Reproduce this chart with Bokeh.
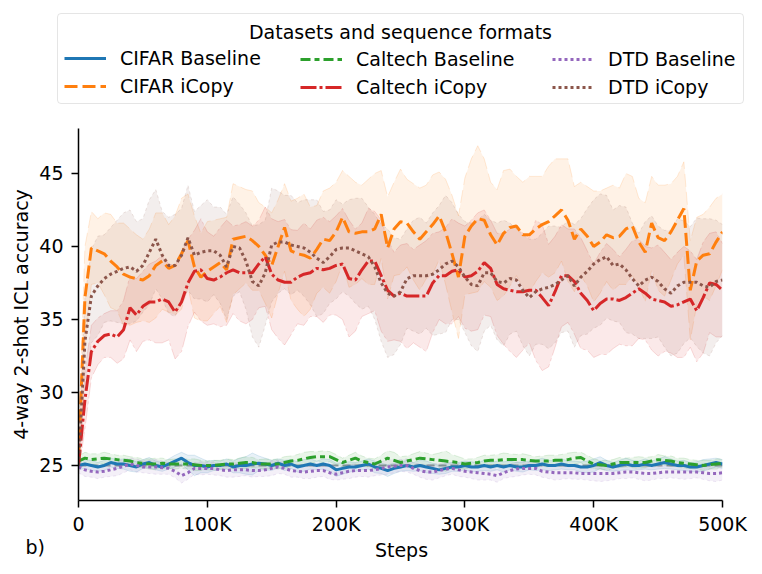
from bokeh.plotting import figure
from bokeh.models import (Range1d, FixedTicker, Legend, LegendItem, Label, Span)
from bokeh.embed import file_html
from bokeh.resources import INLINE

# ---------------- data ----------------
steps = [i * 5000 for i in range(101)]

cifar_icopy = [25.5, 36.5, 39.9, 39.7, 39.5, 39.0, 38.6, 38.1, 37.9, 37.8,
               37.7, 38.0, 38.7, 39.0, 38.5, 38.7, 39.5, 40.4, 38.6, 37.9,
               38.3, 38.6, 38.9, 38.4, 40.5, 40.6, 40.7, 40.4, 40.0, 39.4,
               38.7, 40.0, 41.3, 39.7, 39.5, 39.4, 39.2, 39.8, 40.5, 40.4,
               41.0, 42.0, 41.0, 40.9, 41.0, 41.0, 41.2, 42.2, 39.9, 41.2,
               41.7, 41.6, 41.0, 40.5, 41.0, 41.5, 42.1, 41.0, 39.5, 37.9,
               40.7, 41.4, 41.9, 41.8, 40.8, 40.1, 40.9, 41.3, 41.4, 40.8,
               40.8, 41.2, 41.5, 41.7, 42.1, 42.5, 41.8, 40.5, 41.2, 40.7,
               40.0, 40.3, 40.8, 40.6, 40.7, 41.2, 41.4, 40.3, 39.6, 41.6,
               40.6, 40.4, 41.0, 41.8, 42.6, 37.0, 39.0, 39.4, 39.5, 40.3, 41.0]
cifar_icopy_sd = [1.0, 3.5, 2.5, 2.2, 2.8, 3.2, 3.0, 3.5, 3.3, 3.0,
                  2.8, 3.2, 3.6, 3.3, 3.0, 3.4, 3.8, 3.2, 3.5, 3.0,
                  3.4, 3.2, 3.0, 3.6, 3.8, 3.5, 3.2, 3.4, 3.0, 3.3,
                  3.6, 3.2, 3.0, 3.4, 3.8, 4.2, 3.5, 3.0, 3.3, 3.6,
                  3.4, 3.2, 3.8, 3.5, 3.2, 3.6, 3.8, 3.0, 3.5, 3.2,
                  3.6, 3.0, 3.3, 3.5, 3.2, 3.4, 3.0, 3.6, 4.0, 4.2,
                  4.0, 4.6, 5.0, 4.2, 3.6, 3.8, 4.3, 4.0, 3.4, 3.6,
                  4.0, 3.6, 3.3, 3.8, 3.9, 3.5, 4.2, 3.6, 3.2, 3.4,
                  3.8, 3.5, 3.2, 3.6, 3.3, 3.8, 3.4, 3.0, 3.4, 3.2,
                  3.6, 3.8, 3.3, 3.0, 3.2, 3.4, 3.0, 2.8, 3.2, 3.0, 2.6]

caltech_icopy = [25.0, 29.5, 32.8, 33.5, 33.9, 34.0, 33.8, 34.3, 35.8, 35.3,
                 35.9, 36.2, 36.2, 36.4, 36.2, 35.5, 36.2, 37.5, 38.3, 38.4,
                 37.8, 37.7, 37.9, 38.2, 38.4, 38.2, 38.2, 38.2, 38.8, 39.3,
                 38.1, 37.7, 37.55, 37.55, 37.9, 38.1, 38.2, 38.5, 38.4, 38.5,
                 38.7, 38.8, 37.8, 37.7, 38.4, 39.0, 39.0, 38.0, 37.0, 36.6,
                 36.8, 36.6, 36.6, 36.6, 36.6, 37.5, 38.0, 38.0, 38.3, 38.4,
                 37.9, 38.0, 38.3, 38.9, 38.5, 37.4, 37.1, 37.0, 36.9, 36.9,
                 37.0, 37.0, 36.5, 35.95, 36.9, 38.0, 38.0, 37.6, 36.8, 36.3,
                 35.6, 36.1, 36.4, 36.4, 36.3, 36.5, 36.8, 37.1, 36.8, 36.4,
                 36.3, 36.2, 35.9, 36.0, 36.2, 36.4, 35.6, 36.5, 37.5, 37.4, 37.0]
caltech_icopy_sd = [0.5, 2.0, 1.8, 1.6, 1.5, 1.6, 1.8, 2.0, 2.2, 2.5,
                    2.4, 2.6, 2.8, 3.0, 2.6, 3.2, 3.4, 3.0, 2.8, 3.5,
                    3.2, 3.0, 3.4, 3.6, 3.0, 3.3, 3.5, 3.2, 3.0, 3.4,
                    3.8, 4.0, 4.3, 3.6, 3.2, 3.5, 3.0, 3.3, 3.6, 3.2,
                    3.4, 3.8, 4.0, 3.5, 3.2, 3.6, 3.4, 3.8, 3.5, 3.0,
                    3.3, 3.6, 3.2, 3.5, 3.8, 3.4, 3.0, 3.3, 3.6, 3.2,
                    3.5, 3.8, 4.0, 3.6, 3.3, 3.5, 3.8, 4.2, 4.5, 4.0,
                    3.6, 4.8, 5.0, 4.2, 3.8, 3.5, 3.2, 3.6, 3.8, 3.4,
                    3.2, 3.5, 3.8, 3.4, 3.0, 3.3, 3.6, 3.4, 3.2, 3.5,
                    3.8, 3.4, 3.2, 3.6, 3.8, 3.3, 3.5, 3.8, 3.4, 3.6, 3.2]

dtd_icopy = [25.0, 33.5, 36.6, 37.3, 37.8, 38.1, 38.3, 38.5, 38.6, 38.3,
             38.7, 39.6, 40.5, 39.4, 38.7, 38.7, 39.4, 40.6, 39.4, 39.6,
             39.7, 39.7, 39.4, 38.6, 40.0, 39.9, 39.0, 37.6, 37.3, 38.2,
             40.1, 40.3, 40.3, 40.1, 40.0, 39.9, 39.6, 39.2, 38.9, 39.3,
             39.8, 39.9, 39.9, 39.7, 39.5, 39.3, 38.6, 37.5, 36.8, 36.6,
             36.9, 37.8, 38.0, 38.0, 38.0, 38.1, 38.4, 38.8, 39.0, 38.6,
             37.9, 37.4, 37.3, 38.2, 38.2, 37.6, 37.5, 37.8, 37.7, 37.0,
             36.5, 36.9, 37.1, 37.2, 37.4, 37.7, 38.0, 37.3, 37.9, 38.3,
             38.8, 39.1, 39.3, 38.7, 38.8, 38.4, 37.8, 37.3, 37.7, 37.9,
             37.6, 37.1, 36.8, 37.3, 37.55, 37.55, 37.55, 37.3, 37.2, 37.6, 37.7]
dtd_icopy_sd = [0.6, 3.0, 3.2, 3.4, 3.0, 3.2, 3.5, 3.8, 3.9, 3.4,
                3.2, 3.6, 3.4, 3.0, 3.3, 3.5, 3.2, 3.6, 3.0, 3.2,
                3.5, 3.0, 3.3, 3.6, 3.4, 3.0, 3.3, 3.8, 4.2, 3.6,
                3.9, 3.5, 3.2, 3.4, 3.0, 3.3, 3.6, 4.0, 3.5, 3.2,
                3.4, 3.0, 3.3, 3.6, 3.8, 3.4, 3.6, 4.0, 4.4, 4.0,
                3.6, 3.4, 3.8, 4.0, 3.6, 4.2, 4.4, 4.7, 4.0, 3.6,
                3.8, 4.2, 4.5, 4.0, 3.6, 4.0, 4.3, 3.8, 3.5, 3.8,
                4.0, 3.6, 3.8, 4.2, 4.0, 3.6, 3.8, 4.2, 4.0, 4.3,
                4.4, 4.5, 4.2, 3.8, 4.0, 4.3, 3.8, 3.6, 4.0, 4.2,
                3.8, 4.0, 4.3, 4.6, 4.2, 3.8, 4.4, 4.6, 4.7, 4.2, 3.8]

cifar_base = [25.0, 25.1, 25.0, 24.9, 25.0, 25.2, 25.1, 25.1, 25.0, 24.9,
              25.1, 25.2, 25.0, 24.9, 25.1, 25.3, 25.5, 25.2, 25.0, 25.0,
              24.9, 25.0, 25.0, 25.1, 24.9, 25.0, 25.0, 25.1, 25.15, 25.1,
              25.0, 25.15, 25.0, 25.1, 24.9, 25.0, 25.1, 25.0, 25.1, 25.0,
              24.7, 24.8, 24.9, 24.9, 25.0, 25.1, 24.9, 24.8, 24.65, 24.8,
              24.9, 25.0, 24.9, 25.0, 24.9, 24.8, 24.7, 24.8, 24.9, 24.9,
              25.0, 24.9, 24.9, 25.0, 24.9, 25.0, 24.9, 25.0, 24.9, 24.9,
              25.0, 25.0, 25.1, 25.0, 25.0, 25.1, 25.0, 25.0, 24.9, 24.9,
              25.0, 25.2, 25.0, 24.9, 25.0, 25.1, 25.0, 25.0, 25.1, 25.0,
              25.1, 25.2, 25.1, 25.0, 25.0, 24.9, 24.9, 25.0, 25.1, 25.2, 25.1]
cifar_base_sd = [0.3, 0.3, 0.35, 0.3, 0.35, 0.3, 0.3, 0.35, 0.4, 0.35,
                 0.3, 0.35, 0.3, 0.3, 0.35, 0.4, 0.4, 0.5, 0.7, 0.5,
                 0.4, 0.35, 0.3, 0.35, 0.4, 0.5, 0.6, 0.75, 0.5, 0.4,
                 0.35, 0.3, 0.35, 0.3, 0.35, 0.4, 0.35, 0.3, 0.35, 0.4,
                 0.45, 0.4, 0.35, 0.3, 0.3, 0.35, 0.4, 0.35, 0.4, 0.35,
                 0.3, 0.35, 0.3, 0.35, 0.4, 0.35, 0.3, 0.35, 0.3, 0.3,
                 0.3, 0.35, 0.3, 0.35, 0.3, 0.3, 0.35, 0.3, 0.3, 0.35,
                 0.3, 0.35, 0.4, 0.35, 0.3, 0.35, 0.3, 0.3, 0.35, 0.4,
                 0.45, 0.4, 0.35, 0.3, 0.35, 0.4, 0.35, 0.3, 0.35, 0.3,
                 0.35, 0.4, 0.35, 0.3, 0.35, 0.3, 0.35, 0.4, 0.35, 0.3, 0.3]

caltech_base = [25.3, 25.5, 25.4, 25.45, 25.5, 25.45, 25.4, 25.35, 25.3, 25.2,
                25.15, 25.1, 25.1, 25.15, 25.1, 25.1, 25.1, 25.1, 25.05, 25.0,
                25.0, 25.0, 25.05, 25.1, 25.1, 25.15, 25.2, 25.2, 25.1, 25.1,
                25.1, 25.1, 25.2, 25.3, 25.35, 25.45, 25.55, 25.6, 25.6, 25.6,
                25.4, 25.2, 25.35, 25.5, 25.3, 25.2, 25.1, 25.3, 25.5, 25.35,
                25.2, 25.3, 25.4, 25.5, 25.45, 25.4, 25.35, 25.3, 25.25, 25.2,
                25.1, 25.15, 25.2, 25.3, 25.35, 25.35, 25.4, 25.4, 25.4, 25.4,
                25.35, 25.3, 25.3, 25.3, 25.35, 25.35, 25.4, 25.5, 25.55, 25.3,
                25.1, 25.05, 25.0, 25.1, 25.2, 25.2, 25.2, 25.2, 25.2, 25.3,
                25.4, 25.35, 25.3, 25.2, 25.15, 25.1, 25.05, 25.0, 25.05, 25.1, 25.15]
caltech_base_sd = [0.35, 0.4, 0.4, 0.35, 0.4, 0.35, 0.3, 0.35, 0.3, 0.35,
                   0.3, 0.35, 0.4, 0.35, 0.3, 0.35, 0.3, 0.35, 0.4, 0.35,
                   0.3, 0.35, 0.3, 0.35, 0.3, 0.35, 0.4, 0.35, 0.3, 0.35,
                   0.3, 0.35, 0.4, 0.35, 0.4, 0.45, 0.4, 0.35, 0.4, 0.35,
                   0.35, 0.3, 0.35, 0.4, 0.35, 0.3, 0.35, 0.4, 0.5, 0.55,
                   0.4, 0.35, 0.4, 0.45, 0.4, 0.35, 0.5, 0.7, 0.5, 0.4,
                   0.35, 0.3, 0.35, 0.4, 0.35, 0.4, 0.45, 0.4, 0.35, 0.4,
                   0.35, 0.3, 0.35, 0.4, 0.35, 0.4, 0.45, 0.4, 0.35, 0.4,
                   0.35, 0.3, 0.35, 0.3, 0.35, 0.3, 0.35, 0.4, 0.35, 0.3,
                   0.35, 0.3, 0.35, 0.3, 0.35, 0.3, 0.3, 0.35, 0.3, 0.35, 0.3]

dtd_base = [24.9, 24.7, 24.6, 24.55, 24.6, 24.7, 24.8, 24.95, 25.1, 25.0,
            24.9, 24.9, 24.9, 24.85, 24.8, 24.6, 24.3, 24.5, 24.8, 24.8,
            24.8, 24.8, 24.7, 24.65, 24.7, 24.7, 24.7, 24.65, 24.65, 24.7,
            24.8, 24.9, 24.8, 24.65, 24.6, 24.55, 24.6, 24.65, 24.65, 24.5,
            24.4, 24.5, 24.6, 24.65, 24.65, 24.65, 24.7, 24.8, 24.9, 24.95,
            25.0, 25.0, 24.8, 24.65, 24.55, 24.55, 24.65, 24.75, 24.8, 24.7,
            24.6, 24.55, 24.5, 24.45, 24.4, 24.3, 24.5, 24.65, 24.75, 24.8,
            24.8, 24.8, 24.6, 24.55, 24.5, 24.5, 24.5, 24.5, 24.45, 24.45,
            24.45, 24.45, 24.45, 24.45, 24.5, 24.55, 24.55, 24.5, 24.45, 24.45,
            24.5, 24.55, 24.55, 24.55, 24.55, 24.55, 24.55, 24.5, 24.45, 24.45, 24.5]
dtd_base_sd = [0.4, 0.45, 0.4, 0.45, 0.4, 0.45, 0.5, 0.45, 0.4, 0.45,
               0.4, 0.45, 0.5, 0.45, 0.4, 0.45, 0.5, 0.45, 0.4, 0.45,
               0.4, 0.45, 0.4, 0.45, 0.5, 0.45, 0.4, 0.45, 0.4, 0.45,
               0.5, 0.45, 0.4, 0.45, 0.4, 0.45, 0.5, 0.45, 0.4, 0.45,
               0.4, 0.45, 0.5, 0.45, 0.4, 0.45, 0.4, 0.45, 0.5, 0.45,
               0.4, 0.45, 0.4, 0.45, 0.5, 0.55, 0.5, 0.45, 0.4, 0.45,
               0.4, 0.45, 0.5, 0.45, 0.4, 0.45, 0.4, 0.45, 0.5, 0.45,
               0.4, 0.45, 0.4, 0.45, 0.5, 0.45, 0.4, 0.45, 0.4, 0.45,
               0.5, 0.55, 0.5, 0.45, 0.4, 0.45, 0.4, 0.45, 0.5, 0.45,
               0.4, 0.45, 0.4, 0.45, 0.5, 0.45, 0.4, 0.45, 0.5, 0.55, 0.5]

chance_level = 25
x_ticks = [0, 100000, 200000, 300000, 400000, 500000]
x_tick_labels = ["0", "100K", "200K", "300K", "400K", "500K"]
y_ticks = [25, 30, 35, 40, 45]

series = [
    ("CIFAR Baseline", cifar_base, cifar_base_sd, "#1f77b4", "solid"),
    ("CIFAR iCopy", cifar_icopy, cifar_icopy_sd, "#ff7f0e", "13 5"),
    ("Caltech Baseline", caltech_base, caltech_base_sd, "#2ca02c", "10 4 5 4"),
    ("Caltech iCopy", caltech_icopy, caltech_icopy_sd, "#d62728", "16 3 3 3"),
    ("DTD Baseline", dtd_base, dtd_base_sd, "#9467bd", "3 3"),
    ("DTD iCopy", dtd_icopy, dtd_icopy_sd, "#8c564b", "3 3"),
]

FONT = "DejaVu Sans"
FS = "19px"
W = 762
NAN = float("nan")

# ---------------- main plot ----------------
p = figure(width=W, height=427, output_backend="svg", toolbar_location=None,
           x_range=Range1d(0, 500000), y_range=Range1d(22.6, 48.08),
           min_border_left=78, min_border_right=40, min_border_top=18,
           min_border_bottom=37)
p.outline_line_color = None
p.grid.visible = False
p.background_fill_color = "white"

for ax in (p.xaxis, p.yaxis):
    ax.axis_line_width = 1.5
    ax.major_tick_line_width = 1.5
    ax.major_tick_out = 7
    ax.major_tick_in = 0
    ax.minor_tick_line_color = None
    ax.major_label_text_font = FONT
    ax.major_label_text_font_size = FS
    ax.major_label_text_color = "black"
    ax.axis_label_text_font = FONT
    ax.axis_label_text_font_size = FS
    ax.axis_label_text_font_style = "normal"
    ax.axis_label_text_color = "black"
    ax.axis_line_color = "black"
    ax.major_tick_line_color = "black"

p.xaxis.ticker = FixedTicker(ticks=x_ticks)
p.xaxis.major_label_overrides = {t: l for t, l in zip(x_ticks, x_tick_labels)}
p.xaxis.major_label_standoff = 5
p.yaxis.ticker = FixedTicker(ticks=y_ticks)
p.yaxis.axis_label = "4-way 2-shot ICL accuracy"
p.yaxis.major_label_standoff = 8
p.yaxis.axis_label_standoff = 4

for name, m, sd, col, dash in series:
    lo = [a - b for a, b in zip(m, sd)]
    hi = [a + b for a, b in zip(m, sd)]
    p.varea(x=steps, y1=lo, y2=hi, fill_color=col, fill_alpha=0.1)
    p.line(x=steps, y=lo, line_color=col, line_alpha=0.15, line_width=1, line_dash=dash)
    p.line(x=steps, y=hi, line_color=col, line_alpha=0.15, line_width=1, line_dash=dash)

p.add_layout(Span(location=chance_level, dimension="width", line_color="#808080",
                  line_alpha=0.8, line_width=2, line_dash="8 4", level="underlay"))

for name, m, sd, col, dash in series:
    p.line(x=steps, y=m, line_color=col, line_width=3, line_dash=dash)

# ---------------- legend strip ----------------
lf = figure(width=W, height=110, output_backend="svg", toolbar_location=None,
            x_range=Range1d(0, W), y_range=Range1d(110, 0),
            x_axis_type=None, y_axis_type=None, min_border=0,
            min_border_left=0, min_border_right=0, min_border_top=0,
            min_border_bottom=0)
lf.outline_line_color = None
lf.grid.visible = False

handles = {}
for name, m, sd, col, dash in series:
    handles[name] = lf.line(x=[NAN], y=[NAN], line_color=col, line_width=3,
                            line_dash=dash)

columns = [["CIFAR Baseline", "CIFAR iCopy"],
           ["Caltech Baseline", "Caltech iCopy"],
           ["DTD Baseline", "DTD iCopy"]]
col_x = [57, 294, 546]
for i, (names, vx) in enumerate(zip(columns, col_x)):
    leg = Legend(items=[LegendItem(label=n, renderers=[handles[n]]) for n in names],
                 location=(vx, 6), orientation="vertical")
    leg.title = "\u00a0"
    leg.title_text_font_size = FS
    leg.title_standoff = 5
    leg.label_text_font = FONT
    leg.label_text_font_size = FS
    leg.label_text_color = "black"
    leg.glyph_width = 42
    leg.glyph_height = 20
    leg.label_standoff = 14
    leg.label_height = 20
    leg.spacing = 6
    leg.padding = 6
    leg.margin = 0
    leg.background_fill_alpha = 0
    if i == 0:
        leg.label_width = 617
        leg.border_line_color = "#cccccc"
        leg.border_line_width = 1.5
        if hasattr(leg, "border_radius"):
            leg.border_radius = 4
    else:
        leg.border_line_alpha = 0
    lf.add_layout(leg, "center")

lf.add_layout(Label(x=400, y=31, text="Datasets and sequence formats",
                    text_align="center", text_baseline="middle",
                    text_font=FONT, text_font_size=FS, text_color="black"))

# ---------------- bottom strip ----------------
bf = figure(width=W, height=37, output_backend="svg", toolbar_location=None,
            x_range=Range1d(0, W), y_range=Range1d(37, 0),
            x_axis_type=None, y_axis_type=None, min_border=0,
            min_border_left=0, min_border_right=0, min_border_top=0,
            min_border_bottom=0)
bf.outline_line_color = None
bf.grid.visible = False
bf.add_layout(Label(x=401, y=12, text="Steps", text_align="center",
                    text_baseline="middle", text_font=FONT, text_font_size=FS,
                    text_color="black"))
bf.add_layout(Label(x=25, y=9, text="b)", text_align="left",
                    text_baseline="middle", text_font=FONT, text_font_size=FS,
                    text_color="black"))

open("out.html", "w").write(file_html((lf, p, bf), INLINE))
